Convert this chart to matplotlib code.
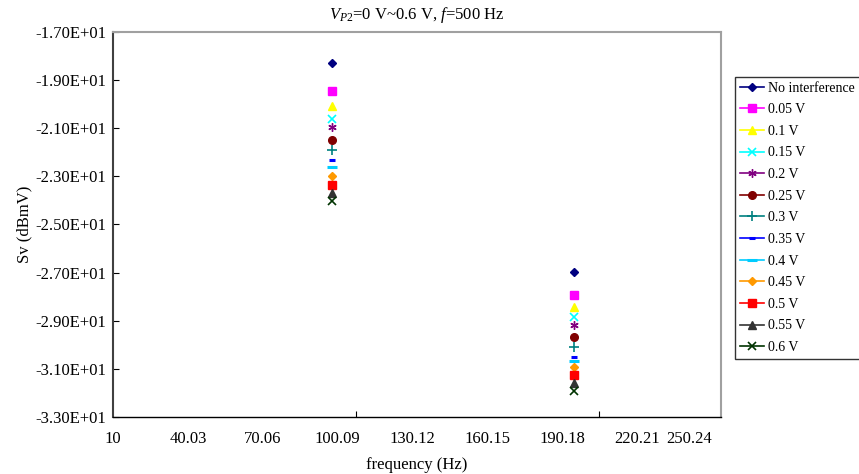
import numpy as np
import matplotlib
matplotlib.use("Agg")
import matplotlib.pyplot as plt
from matplotlib.lines import Line2D
from matplotlib.ticker import FuncFormatter

plt.rcParams['font.family'] = ['Liberation Serif', 'DejaVu Serif']
plt.rcParams['mathtext.fontset'] = 'custom'
plt.rcParams['mathtext.rm'] = 'Liberation Serif'
plt.rcParams['mathtext.it'] = 'Liberation Serif:italic'

# two spectral peaks, one value per interference level
freqs = [97.7, 194.9]
labels = ['No interference', '0.05 V', '0.1 V', '0.15 V', '0.2 V', '0.25 V', '0.3 V',
          '0.35 V', '0.4 V', '0.45 V', '0.5 V', '0.55 V', '0.6 V']
peak1 = [-18.28, -19.46, -20.08, -20.63, -20.94, -21.49, -21.90,
         -22.32, -22.62, -22.99, -23.35, -23.68, -24.01]
peak2 = [-26.98, -27.92, -28.42, -28.86, -29.19, -29.69, -30.10,
         -30.49, -30.69, -30.94, -31.24, -31.60, -31.91]
xtick_vals = [10, 40.03, 70.06, 100.09, 130.12, 160.15, 190.18, 220.21, 250.24]

colors = ['#000080', '#FF00FF', '#FFFF00', '#00FFFF', '#800080', '#800000', '#008080',
          '#0000FF', '#00CCFF', '#FF9900', '#FF0000', '#333333', '#003300']
markers = ['D', 's', '^', 'x', (6, 2, 0), 'o', '+', '_', '_', 'D', 's', '^', 'x']
msizes = [4.5, 5.5, 6, 6, 6, 5.5, 7, 4, 7, 4.5, 5.5, 6, 6]
mews = [1, 1, 1, 1.2, 1, 1, 1.2, 2.2, 2.2, 1, 1, 1, 1.2]

fig = plt.figure(figsize=(8.59, 4.74), dpi=100)
ax = fig.add_axes([0.1315, 0.1203, 0.708, 0.8122])

handles = []
for i, lab in enumerate(labels):
    ax.plot(freqs, [peak1[i], peak2[i]], linestyle='none', marker=markers[i],
            ms=msizes[i], mew=mews[i], color=colors[i], mec=colors[i], mfc=colors[i])
    handles.append(Line2D([], [], color=colors[i], lw=1.2, marker=markers[i],
                          ms=msizes[i], mew=mews[i], mec=colors[i], mfc=colors[i]))

ax.set_xlim(10, 253.8)
ax.set_ylim(-33, -17)
ax.set_yticks(np.arange(-33, -16, 2))
ax.yaxis.set_major_formatter(FuncFormatter(lambda v, p: f"{v:.2E}"))
ax.set_xticks(xtick_vals)
ax.set_xticklabels([f"{v:g}" for v in xtick_vals])
# last label kept inside the plot edge
ax.get_xticklabels()[-1].set_horizontalalignment('right')
ax.set_xticks([107.4, 204.9], minor=True)
ax.tick_params(axis='x', which='major', length=0, pad=10, labelsize=12)
ax.tick_params(axis='x', which='minor', direction='in', length=4, width=0.8)
ax.tick_params(axis='y', direction='in', length=4, width=0.8, labelsize=12, pad=5)

for s in ['top', 'right']:
    ax.spines[s].set_color('#a0a0a0')
    ax.spines[s].set_linewidth(1.5)
ax.spines['left'].set_color('#404040')
ax.spines['left'].set_linewidth(1.5)
ax.spines['bottom'].set_color('black')
ax.spines['bottom'].set_linewidth(1.0)

ax.set_title(r'$V_{P2}$=0 V~0.6 V, $f$=500 Hz', fontsize=12, pad=9)
ax.set_xlabel('frequency (Hz)', fontsize=12, labelpad=7)
ax.set_ylabel('Sv (dBmV)', fontsize=12, labelpad=2)

fig.legend(handles, labels, loc='upper left', bbox_to_anchor=(0.856, 0.838),
           fontsize=10, frameon=True, fancybox=False, edgecolor='black',
           handlelength=1.7, handletextpad=0.3, labelspacing=0.62,
           borderpad=0.35, borderaxespad=0)

fig.savefig('out.png', dpi=100)
